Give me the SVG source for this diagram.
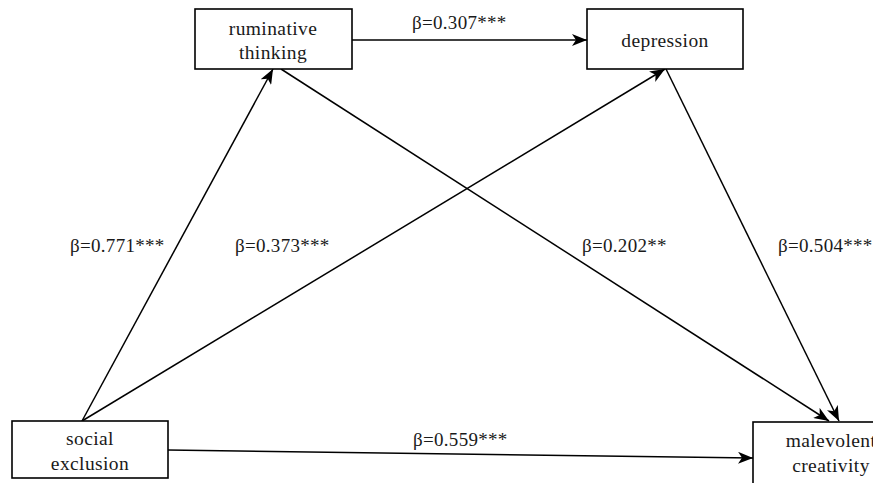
<svg xmlns="http://www.w3.org/2000/svg" width="873" height="483" viewBox="0 0 873 483">
<defs>
<marker id="ah" markerUnits="userSpaceOnUse" markerWidth="16" markerHeight="12" refX="15" refY="6" orient="auto">
<path d="M0,0 L15,6 L0,12 L4,6 Z" fill="#000"/>
</marker>
<style>
.box{fill:#fff;stroke:#000;stroke-width:1.6}
.t{font-size:19.5px;fill:#1a1a1a;text-anchor:middle;letter-spacing:0.4px}
.lb{font-size:19px;fill:#1a1a1a;letter-spacing:0.3px}
.c{stroke:#000;stroke-width:1.5;fill:none;marker-end:url(#ah)}
</style>
</defs>
<rect width="873" height="483" fill="#fff"/>
<g id="connectors">
<line class="c" x1="352" y1="40" x2="587" y2="40"/>
<line class="c" x1="82" y1="421" x2="273" y2="69"/>
<line class="c" x1="82" y1="421" x2="665" y2="69"/>
<line class="c" x1="281" y1="69" x2="829" y2="421"/>
<line class="c" x1="666" y1="69" x2="839" y2="421"/>
<line class="c" x1="168" y1="450" x2="753" y2="458"/>
</g>
<g id="labels" font-family="Liberation Serif, serif">
<text class="lb" x="412" y="29">β=0.307***</text>
<text class="lb" x="70" y="252">β=0.771***</text>
<text class="lb" x="235" y="252">β=0.373***</text>
<text class="lb" x="582" y="252">β=0.202**</text>
<text class="lb" x="778" y="252">β=0.504***</text>
<text class="lb" x="413" y="446">β=0.559***</text>
</g>
<g id="ruminative" font-family="Liberation Serif, serif">
<rect class="box" x="195" y="9" width="157" height="60"/>
<text class="t" x="273" y="35">ruminative</text>
<text class="t" x="273" y="59">thinking</text>
</g>
<g id="depression" font-family="Liberation Serif, serif">
<rect class="box" x="587" y="9" width="156" height="60"/>
<text class="t" x="665" y="47">depression</text>
</g>
<g id="social" font-family="Liberation Serif, serif">
<rect class="box" x="12" y="421" width="156" height="57"/>
<text class="t" x="90" y="445">social</text>
<text class="t" x="90" y="470">exclusion</text>
</g>
<g id="malevolent" font-family="Liberation Serif, serif">
<rect class="box" x="753" y="422" width="160" height="70"/>
<text class="t" x="831" y="447">malevolent</text>
<text class="t" x="831" y="472">creativity</text>
</g>
</svg>
